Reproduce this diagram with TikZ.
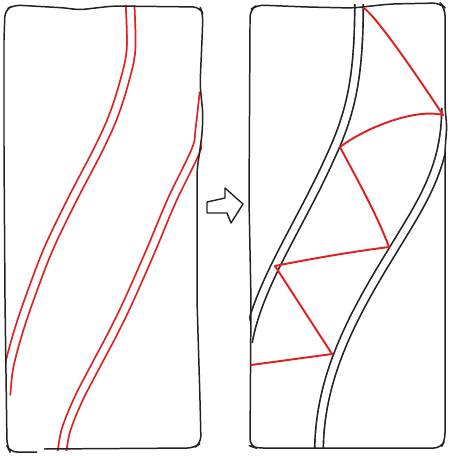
\documentclass[tikz,border=0pt]{standalone}
\usetikzlibrary{positioning}
\definecolor{clrink}{HTML}{222222}
\definecolor{clrred}{HTML}{E02020}
\begin{document}
\begin{tikzpicture}[
    x=0.02cm, y=-0.02cm,
    panel/.style={draw=clrink, line width=0.85pt, rounded corners=4pt, line join=round},
    redstrip/.style={draw=clrred, double=white, line width=1pt, double distance=3.9pt},
    blackstrip/.style={draw=clrink, double=white, line width=0.95pt, double distance=3.9pt},
    zigline/.style={draw=clrred, line width=1.1pt, line cap=round, line join=round},
    hollowarrow/.style={draw=clrink, line width=0.8pt, line join=round, fill=white},
]
\useasboundingbox (0,0) rectangle (450,456);
\begin{scope}
\clip (5,6) rectangle (202,450);
\draw[redstrip] plot[smooth, tension=0.55] coordinates {(130,4) (131,50) (124,83) (113,117) (98,150) (72,200) (48,250) (29,300) (18,333) (9,367) (6,395)};
\draw[redstrip] plot[smooth, tension=0.55] coordinates {(204,92) (200,128) (196,150) (172,200) (151,250) (129,300) (113,333) (95,367) (78,400) (66,430) (62,452)};
\end{scope}
\begin{scope}
\clip (249,5) rectangle (445,448);
\draw[blackstrip] (359,4) .. controls (359,80) and (350,115) .. (330,158) .. controls (300,225) and (258,285) .. (248,342);
\draw[blackstrip] (446,108) .. controls (446,170) and (420,205) .. (390,255) .. controls (350,320) and (319,380) .. (319,452);
\end{scope}
\draw[panel] (4,40) -- (5,10) -- (14,5) -- (67,8) -- (78,10) -- (113,6) -- (200,7) -- (203,14) -- (202,40) -- (200,85) -- (203,115) -- (202,135) -- (197,170) -- (197,300) -- (200,400) -- (201,443) -- (194,448) -- (44,449);
\draw[panel] (37,452) -- (10,452) -- (7,446) -- (5,300) -- (4,150) -- (4,40);
\draw[panel] (250,30) -- (250,10) -- (257,5) -- (307,7) -- (353,8) -- (390,4) -- (440,3) -- (445,8) -- (445,110) -- (447,125) -- (445,150) -- (445,440) -- (441,448) -- (256,448) -- (250,446) -- (251,300) -- (249,200) -- cycle;
\coordinate (z_1) at (364,8);
\coordinate (z_2) at (443,115);
\coordinate (z_3) at (340,147);
\coordinate (z_4) at (389,247);
\coordinate (z_5) at (275,266);
\coordinate (z_6) at (332,354);
\coordinate (z_7) at (251,365);
\draw[zigline] (z_1) .. controls (376,17) and (410,65) .. (z_2) .. controls (415,108) and (365,128) .. (z_3) .. controls (352,170) and (376,212) .. (z_4) .. controls (350,252) and (310,259) .. (z_5) -- (z_6) -- (z_7);
\draw[hollowarrow] (207,202) -- (225,198) -- (225,188) -- (243,204) -- (231,223) -- (227,213) -- (207,213) -- cycle;
\end{tikzpicture}
\end{document}
